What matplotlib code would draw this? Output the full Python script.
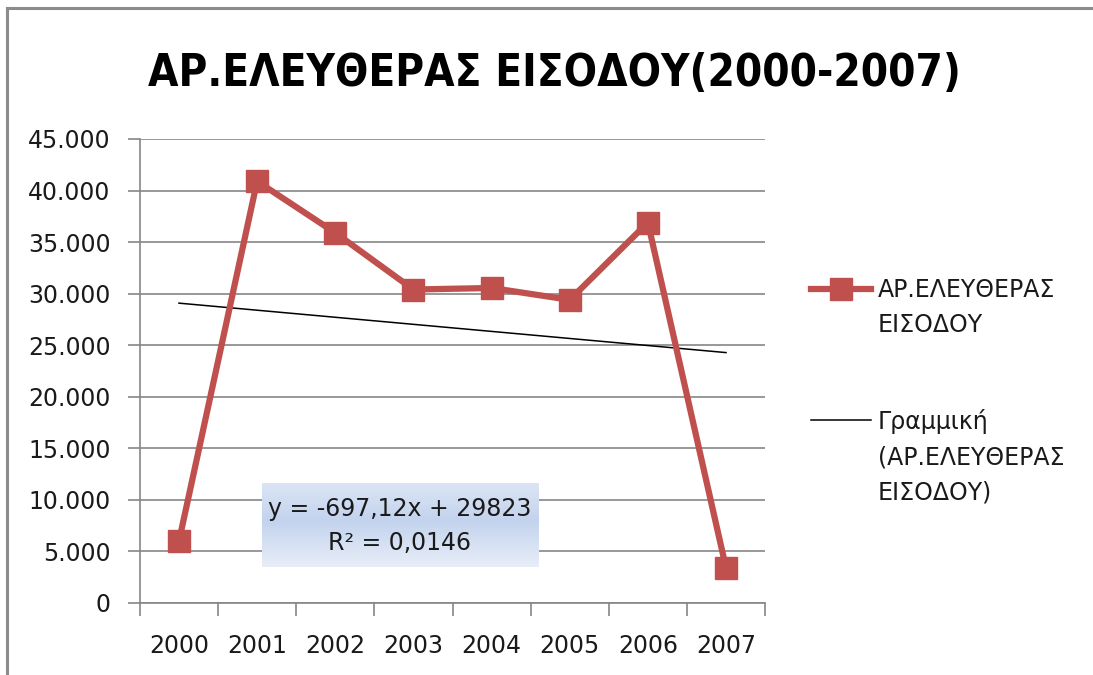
import numpy as np
import matplotlib
matplotlib.use("Agg")
import matplotlib.pyplot as plt
from matplotlib.lines import Line2D
from matplotlib.ticker import FuncFormatter
from matplotlib.colors import LinearSegmentedColormap

# data
years = ['2000', '2001', '2002', '2003', '2004', '2005', '2006', '2007']
values = [6000, 40900, 35900, 30400, 30550, 29400, 36900, 3400]
series_name = 'ΑΡ.ΕΛΕΥΘΕΡΑΣ\nΕΙΣΟΔΟΥ'
trend_name = 'Γραμμική\n(ΑΡ.ΕΛΕΥΘΕΡΑΣ\nΕΙΣΟΔΟΥ)'
eq_text = 'y = -697,12x + 29823\nR² = 0,0146'
title = 'ΑΡ.ΕΛΕΥΘΕΡΑΣ ΕΙΣΟΔΟΥ(2000-2007)'

red = '#C0504D'
grid_col = '#868686'
txt_col = '#1a1a1a'
plt.rcParams['font.family'] = ['DejaVu Sans']

fig = plt.figure(figsize=(10.93, 6.75), dpi=100)
ax = fig.add_axes([0.128, 0.1067, 0.572, 0.6874])

x = np.arange(len(years))
ax.plot(x, values, color=red, lw=4.5, marker='s', markersize=16.5,
        markerfacecolor=red, markeredgecolor=red, zorder=4)

# linear trendline (x = 1..n like excel)
coef = np.polyfit(x + 1, values, 1)
ax.plot(x, np.polyval(coef, x + 1), color='black', lw=1.1, zorder=3)

ax.set_yticks(np.arange(0, 45001, 5000))
ax.yaxis.set_major_formatter(FuncFormatter(lambda v, p: f'{int(v):,}'.replace(',', '.')))
ax.set_xticks(np.arange(-0.5, len(years), 1))
ax.set_xticklabels([])
ax.set_xticks(x, minor=True)
ax.set_xticklabels(years, minor=True)
ax.tick_params(axis='x', which='minor', length=0, pad=22, labelsize=17, labelcolor=txt_col)
ax.tick_params(axis='x', which='major', length=9, color=grid_col, width=1.2)
ax.tick_params(axis='y', length=9, color=grid_col, width=1.2, labelsize=17, pad=12,
               labelcolor=txt_col)

ax.grid(axis='y', color=grid_col, lw=1.2)
ax.set_axisbelow(True)
for s in ['top', 'right']:
    ax.spines[s].set_visible(False)
for s in ['left', 'bottom']:
    ax.spines[s].set_color(grid_col)
    ax.spines[s].set_linewidth(1.2)

# equation box with a soft blue gradient
cmap = LinearSegmentedColormap.from_list('eq', ['#e8eef8', '#c3d3ee'])
grad = np.interp(np.linspace(0, 1, 100), [0, 0.45, 1], [0.35, 1, 0.0]).reshape(-1, 1)
ax.imshow(grad, cmap=cmap, vmin=0, vmax=1, aspect='auto',
          extent=[0.195, 0.637, 0.0776, 0.2586],
          transform=ax.transAxes, zorder=2, interpolation='bilinear')
ax.text(0.416, 0.166, eq_text, transform=ax.transAxes, ha='center', va='center',
        fontsize=17, color=txt_col, linespacing=1.5, zorder=5)
ax.set_xlim(-0.5, len(years) - 0.5)
ax.set_ylim(0, 45000)

fig.text(0.507, 0.891, title, ha='center', va='center', fontsize=31.5,
         fontweight='bold', fontstretch='condensed', color='black')

# legend drawn by hand to match excel layout
fig.add_artist(Line2D([0.742, 0.797], [0.572, 0.572], color=red, lw=4.5,
                      transform=fig.transFigure))
fig.add_artist(Line2D([0.7695], [0.572], color=red, marker='s', markersize=16.5,
                      lw=0, transform=fig.transFigure))
fig.text(0.803, 0.588, series_name, ha='left', va='top', fontsize=17,
         linespacing=1.6, color=txt_col)
fig.add_artist(Line2D([0.742, 0.797], [0.378, 0.378], color='black', lw=1.1,
                      transform=fig.transFigure))
fig.text(0.803, 0.394, trend_name, ha='left', va='top', fontsize=17,
         linespacing=1.6, color=txt_col)

# chart area border (top and left visible)
fig.add_artist(Line2D([0.0065, 1.0], [0.988, 0.988], color='#8c8c8c', lw=2.2,
                      transform=fig.transFigure))
fig.add_artist(Line2D([0.0065, 0.0065], [0.0, 0.988], color='#8c8c8c', lw=2.2,
                      transform=fig.transFigure))

fig.savefig('out.png', dpi=100)
